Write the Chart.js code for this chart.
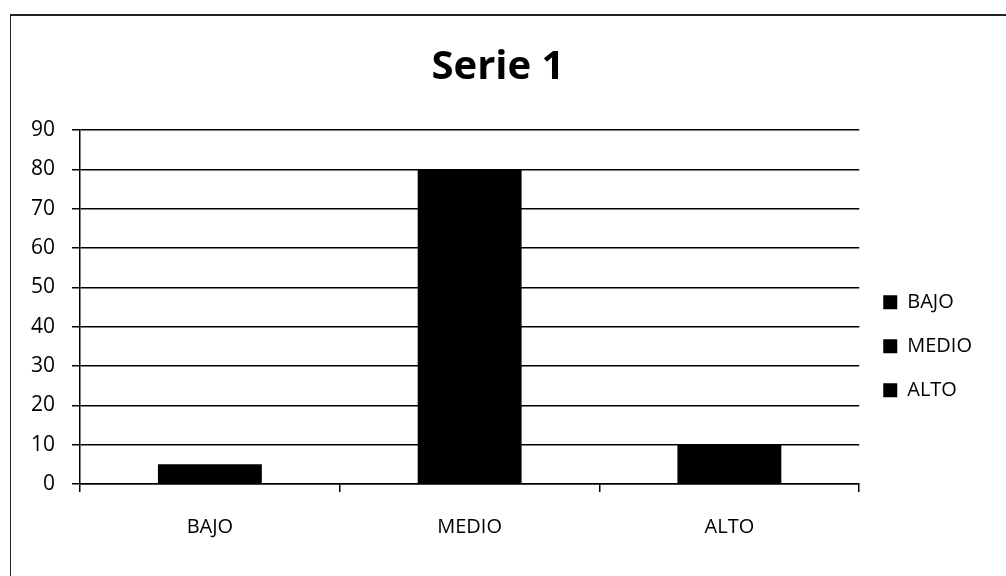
<!DOCTYPE html>
<html>
<head>
<meta charset="utf-8">
<script src="https://cdn.jsdelivr.net/npm/chart.js@4/dist/chart.umd.min.js"></script>
<style>
  html, body { margin: 0; padding: 0; background: #fff; }
  #frame {
    position: absolute; left: 10px; top: 14px;
    width: 996px; height: 562px;
    border-left: 1px solid #222; border-top: 2px solid #222;
    box-sizing: border-box;
  }
  #myChart { display: block; }
</style>
</head>
<body>
<div id="frame"><canvas id="myChart" width="995" height="560"></canvas></div>
<script>
const labels = ['BAJO', 'MEDIO', 'ALTO'];
const values = [5, 80, 10];
const yTicks = [0, 10, 20, 30, 40, 50, 60, 70, 80, 90];

const data = {
    labels: labels,
    datasets: [{
        label: 'Serie 1',
        backgroundColor: '#000',
        borderColor: '#000',
        data: values,
        categoryPercentage: 1,
        barPercentage: 0.4,
    }]
};

const options = {
    responsive: false,
    animation: false,
    layout: {
        padding: { left: 3, right: 24, top: 0, bottom: 14 }
    },
    scales: {
        x: {
            grid: {
                offset: true,
                drawOnChartArea: false,
                drawTicks: true,
                tickLength: 8,
                color: '#000',
                lineWidth: 1.5,
            },
            border: { color: '#000', width: 1.5 },
            ticks: {
                color: '#000',
                font: { family: 'Open Sans', size: 20 },
                padding: 23,
            },
        },
        y: {
            min: 0,
            max: 90,
            afterBuildTicks: (axis) => {
                axis.ticks = yTicks.map(v => ({ value: v }));
            },
            grid: {
                color: '#000',
                lineWidth: 1.5,
                tickLength: 8,
            },
            border: { color: '#000', width: 1.5 },
            ticks: {
                color: '#000',
                font: { family: 'Open Sans', size: 21 },
                padding: 17,
            },
        },
    },
    plugins: {
        title: {
            display: true,
            text: 'Serie 1',
            color: '#000',
            font: { family: 'Open Sans', size: 40, weight: 'bold' },
            padding: { top: 28, bottom: 38 },
        },
        legend: {
            position: 'right',
            title: {
                display: true,
                text: '',
                padding: { top: 0, bottom: 100 },
            },
            labels: {
                color: '#000',
                font: { family: 'Open Sans', size: 20 },
                boxWidth: 14,
                boxHeight: 14,
                padding: 24,
                generateLabels: () => labels.map(l => ({
                    text: l,
                    fillStyle: '#000',
                    strokeStyle: '#000',
                    lineWidth: 0,
                    fontColor: '#000',
                })),
            },
        },
        tooltip: { enabled: false },
    },
};

const config = {
    type: 'bar',
    data: data,
    options
};

const myChart = new Chart(
    document.getElementById('myChart'),
    config
);
</script>
</body>
</html>
